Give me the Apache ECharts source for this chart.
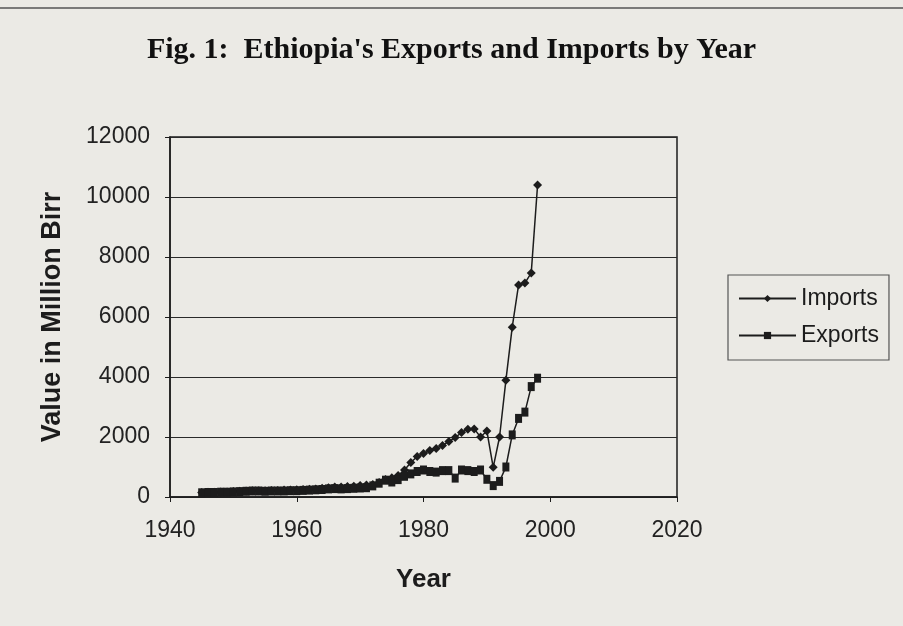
<!DOCTYPE html>
<html>
<head>
<meta charset="utf-8">
<script src="https://cdn.jsdelivr.net/npm/echarts@6/dist/echarts.min.js"></script>
<style>
  html, body { margin: 0; padding: 0; background: #ebeae5; }
  #chart { width: 903px; height: 626px; }
</style>
</head>
<body>
<div id="chart"></div>
<script>
// Years covered by the trade series
const years = [
  1945, 1946, 1947, 1948, 1949, 1950, 1951, 1952, 1953, 1954,
  1955, 1956, 1957, 1958, 1959, 1960, 1961, 1962, 1963, 1964,
  1965, 1966, 1967, 1968, 1969, 1970, 1971, 1972, 1973, 1974,
  1975, 1976, 1977, 1978, 1979, 1980, 1981, 1982, 1983, 1984,
  1985, 1986, 1987, 1988, 1989, 1990, 1991, 1992, 1993, 1994,
  1995, 1996, 1997, 1998
];

// Imports, million Birr
const imports = [
  150, 160, 160, 170, 170, 180, 190, 200, 210, 210,
  210, 220, 220, 230, 230, 240, 250, 260, 270, 290,
  310, 330, 330, 350, 360, 380, 400, 420, 480, 580,
  640, 720, 900, 1150, 1350, 1450, 1550, 1620, 1720, 1850,
  1980, 2150, 2260, 2270, 2000, 2200, 990, 2000, 3890, 5660,
  7070, 7130, 7470, 10400
];

// Exports, million Birr
const exports_ = [
  140, 150, 150, 160, 160, 170, 180, 190, 200, 200,
  190, 200, 200, 200, 210, 210, 220, 230, 240, 250,
  270, 280, 270, 280, 290, 300, 310, 370, 460, 560,
  500, 580, 690, 770, 850, 900, 850, 830, 880, 880,
  630, 900, 880, 850, 900, 590, 380, 520, 1000, 2070,
  2620, 2830, 3680, 3960
];

const seriesNames = ['Imports', 'Exports'];
const titleText = "Fig. 1:  Ethiopia's Exports and Imports by Year";
const xAxisTitle = 'Year';
const yAxisTitle = 'Value in Million Birr';

const pairs = (vals) => years.map((y, i) => [y, vals[i]]);
const plain = (v) => String(v);

const ink = '#1c1c1c';
const chart = echarts.init(document.getElementById('chart'), null, { renderer: 'canvas' });

chart.setOption({
  backgroundColor: '#ebeae5',
  animation: false,
  title: {
    text: titleText,
    left: 'center',
    top: 30,
    textStyle: {
      fontFamily: 'Liberation Serif',
      fontWeight: 'bold',
      fontSize: 30,
      color: '#111'
    }
  },
  graphic: [{
    type: 'line',
    shape: { x1: 0, y1: 8, x2: 903, y2: 8 },
    style: { stroke: '#555', lineWidth: 1.5 }
  }],
  grid: {
    left: 170, right: 226, top: 137, bottom: 129,
    show: true,
    borderColor: ink,
    borderWidth: 1.5,
    backgroundColor: 'transparent'
  },
  legend: {
    orient: 'vertical',
    left: 728,
    top: 275,
    padding: [12, 10, 13, 10],
    itemGap: 14,
    itemWidth: 57,
    itemHeight: 9,
    borderColor: '#555',
    borderWidth: 1.2,
    textStyle: { fontFamily: 'Liberation Sans', fontSize: 23, color: ink },
    data: seriesNames
  },
  xAxis: {
    type: 'value',
    min: 1940, max: 2020, interval: 20,
    name: xAxisTitle,
    nameLocation: 'middle',
    nameGap: 70,
    nameTextStyle: { fontFamily: 'Liberation Sans', fontWeight: 'bold', fontSize: 26, color: ink },
    axisLine: { show: true, lineStyle: { color: ink, width: 1.5 } },
    axisTick: { show: true, inside: false, length: 5, lineStyle: { color: ink } },
    axisLabel: { fontFamily: 'Liberation Sans', fontSize: 23, color: '#222', margin: 22, formatter: plain },
    splitLine: { show: false }
  },
  yAxis: {
    type: 'value',
    min: 0, max: 12000, interval: 2000,
    name: yAxisTitle,
    nameLocation: 'middle',
    nameGap: 104,
    nameTextStyle: { fontFamily: 'Liberation Sans', fontWeight: 'bold', fontSize: 27, color: ink },
    axisLine: { show: true, lineStyle: { color: ink, width: 1.5 } },
    axisTick: { show: true, inside: false, length: 5, lineStyle: { color: ink } },
    axisLabel: { fontFamily: 'Liberation Sans', fontSize: 23, color: '#222', margin: 20, formatter: plain },
    splitLine: { show: true, lineStyle: { color: '#2a2a2a', width: 1.2 } }
  },
  series: [
    {
      name: seriesNames[0],
      type: 'line',
      data: pairs(imports),
      symbol: 'diamond',
      symbolSize: 9,
      itemStyle: { color: ink },
      lineStyle: { color: ink, width: 1.5 }
    },
    {
      name: seriesNames[1],
      type: 'line',
      data: pairs(exports_),
      symbol: 'rect',
      symbolSize: [7, 9],
      itemStyle: { color: ink },
      lineStyle: { color: ink, width: 1.5 }
    }
  ]
});
</script>
</body>
</html>
